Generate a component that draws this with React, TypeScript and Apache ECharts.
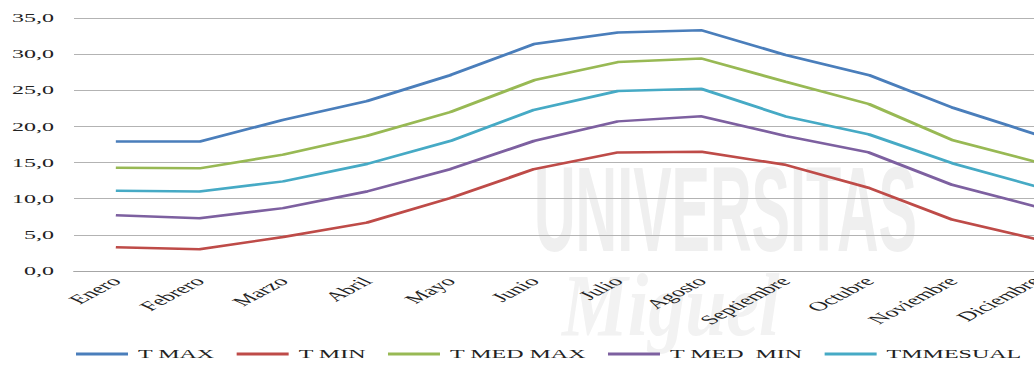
import React, { useEffect, useRef } from "react";
import * as echarts from "echarts";

const months = ["Enero", "Febrero", "Marzo", "Abril", "Mayo", "Junio", "Julio", "Agosto", "Septiembre", "Octubre", "Noviembre", "Diciembre"];
const tMax = [17.9, 17.9, 20.9, 23.5, 27.1, 31.4, 33.0, 33.3, 29.9, 27.1, 22.6, 18.9];
const tMin = [3.3, 3.0, 4.7, 6.7, 10.1, 14.1, 16.4, 16.5, 14.7, 11.5, 7.1, 4.4];
const tMedMax = [14.3, 14.2, 16.1, 18.7, 22.0, 26.4, 28.9, 29.4, 26.2, 23.1, 18.1, 15.1];
const tMedMin = [7.7, 7.3, 8.7, 11.0, 14.1, 18.0, 20.7, 21.4, 18.7, 16.4, 11.9, 8.9];
const tmMensual = [11.1, 11.0, 12.4, 14.8, 18.0, 22.3, 24.9, 25.2, 21.4, 18.9, 14.9, 11.7];

const seriesNames = ["T MAX", "T MIN", "T MED MAX", "T MED  MIN", "TMMESUAL"];
const seriesColors = ["#4A7EBB", "#BE4B48", "#98B954", "#7D60A0", "#46AAC5"];
const seriesData = [tMax, tMin, tMedMax, tMedMin, tmMensual];

const SCALE_X = 2;
const VIEW_W = 1034;
const H = 365;
const INNER_W = 570; // drawing width before horizontal stretch; the right part is cropped like the reference

export default function App() {
  const ref = useRef<HTMLDivElement>(null);
  useEffect(() => {
    if (!ref.current) return;
    const chart = echarts.init(ref.current, null, { renderer: "svg" });
    const serif = "'Liberation Serif', 'Times New Roman', serif";
    chart.setOption({
      animation: false,
      backgroundColor: "#ffffff",
      grid: { left: 37, right: INNER_W - 539, top: 18, bottom: 94 },
      graphic: [
        {
          type: "text",
          z: -10,
          x: 267,
          y: 210,
          scaleX: 0.24,
          silent: true,
          style: {
            text: "UNIVERSITAS",
            fontSize: 120,
            fontWeight: "bold",
            fontFamily: "'Liberation Sans', Arial, sans-serif",
            fill: "#efefef",
            verticalAlign: "middle",
          },
        },
        {
          type: "text",
          z: -10,
          x: 281,
          y: 306,
          scaleX: 0.42,
          silent: true,
          style: {
            text: "Miguel",
            fontSize: 88,
            fontWeight: "bold",
            fontStyle: "italic",
            fontFamily: serif,
            fill: "#f2f2f2",
            verticalAlign: "middle",
          },
        },
      ],
      legend: {
        left: 38,
        top: 348,
        padding: 0,
        itemGap: 11,
        itemWidth: 26,
        itemHeight: 3,
        icon: "rect",
        data: seriesNames,
        textStyle: { fontFamily: serif, fontSize: 12, color: "#222" },
      },
      xAxis: {
        type: "category",
        data: months,
        boundaryGap: true,
        axisLine: { lineStyle: { color: "#a6a6a6", width: 1 } },
        axisTick: { show: false },
        axisLabel: {
          rotate: 47,
          margin: 8,
          interval: 0,
          fontFamily: serif,
          fontSize: 13,
          color: "#222",
        },
      },
      yAxis: {
        type: "value",
        min: 0,
        max: 35,
        interval: 5,
        axisLine: { show: false },
        axisTick: { show: false },
        splitLine: { lineStyle: { color: "#b3b3b3", width: 1 } },
        axisLabel: {
          margin: 10,
          fontFamily: serif,
          fontSize: 12,
          color: "#222",
          formatter: (v: number) => v.toFixed(1).replace(".", ","),
        },
      },
      series: seriesNames.map((name, i) => ({
        name,
        type: "line",
        data: seriesData[i],
        symbol: "none",
        showSymbol: false,
        color: seriesColors[i],
        lineStyle: { width: 2.5, color: seriesColors[i] },
        itemStyle: { color: seriesColors[i] },
      })),
    });
    return () => chart.dispose();
  }, []);
  return (
    <div style={{ position: "absolute", left: 0, top: 0, width: VIEW_W, height: H, overflow: "hidden", background: "#fff" }}>
      <div
        ref={ref}
        style={{ width: INNER_W, height: H, transform: `scaleX(${SCALE_X})`, transformOrigin: "0 0" }}
      />
    </div>
  );
}
